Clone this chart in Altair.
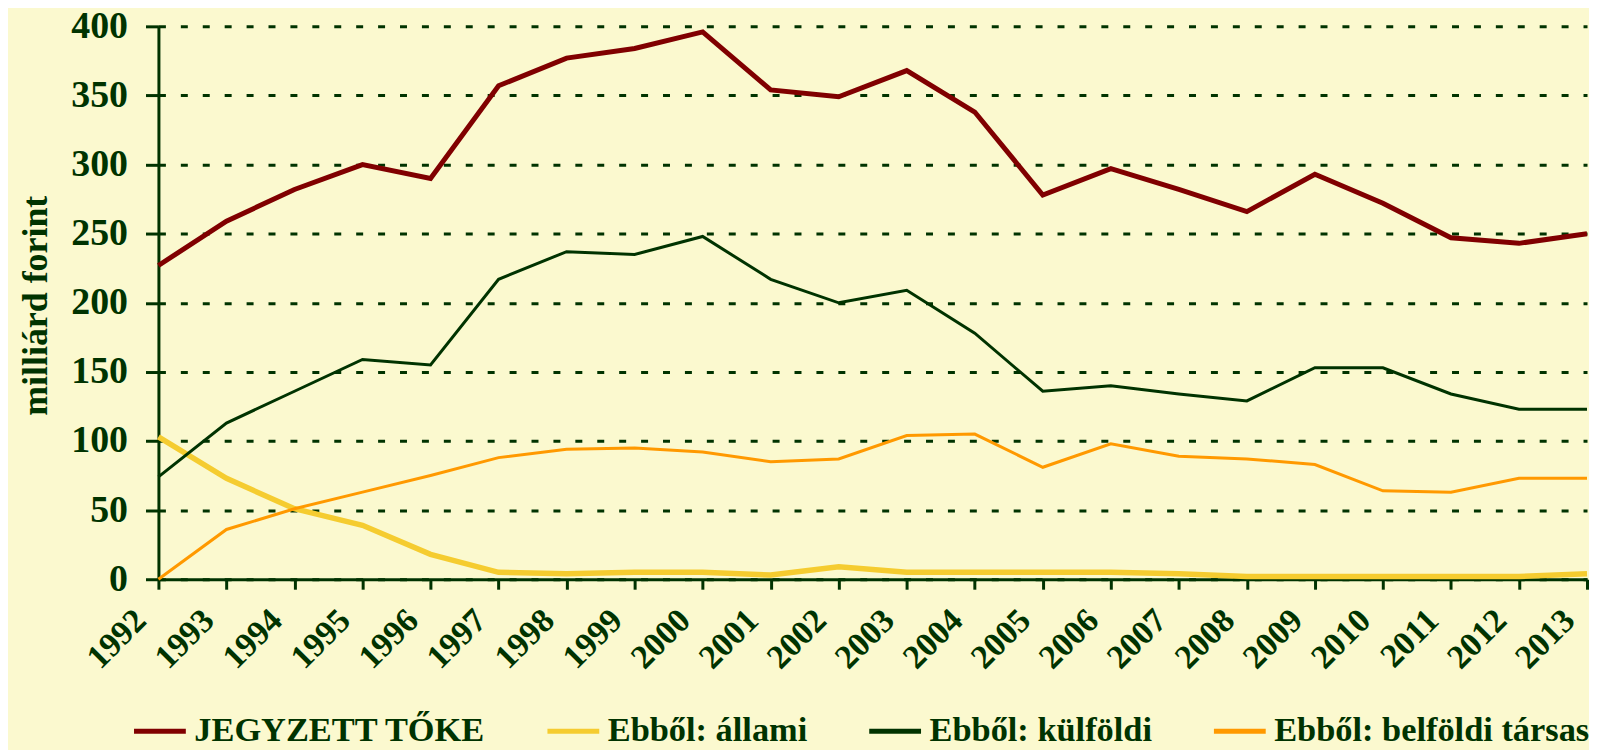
import altair as alt
import pandas as pd

years = list(range(1992, 2014))
series_names = ["JEGYZETT TŐKE", "Ebből: állami", "Ebből: külföldi", "Ebből: belföldi társas"]

jegyzett = [227, 259, 282, 300, 290, 357, 377, 384, 396, 354, 349, 368, 338, 278, 297, 282, 266, 293, 272, 247, 243, 250]
allami = [103, 73, 51, 39, 18, 5, 4, 5, 5, 3, 9, 5, 5, 5, 5, 4, 2, 2, 2, 2, 2, 4]
kulfoldi = [74, 113, 136, 159, 155, 217, 237, 235, 248, 217, 200, 209, 178, 136, 140, 134, 129, 153, 153, 134, 123, 123]
belfoldi = [0, 36, 51, 63, 75, 88, 94, 95, 92, 85, 87, 104, 105, 81, 98, 89, 87, 83, 64, 63, 73, 73]

colors = ["#800000", "#F5CC30", "#003300", "#FF9900"]
widths = [5, 5.5, 3, 3]

rows = []
for name, vals in zip(series_names, [jegyzett, allami, kulfoldi, belfoldi]):
    for y, v in zip(years, vals):
        rows.append({"year": y, "value": v, "series": name})
df = pd.DataFrame(rows)

GREEN = "#003300"
FONT = "Liberation Serif"

x_enc = alt.X("year:O", scale=alt.Scale(type="point", padding=0),
              axis=alt.Axis(title=None, labelAngle=315, labelAlign="right", labelBaseline="middle",
                            labelFontSize=34, labelFont=FONT, labelFontWeight="bold", labelColor=GREEN,
                            labelPadding=26, labelOffset=-18,
                            tickSize=10, tickWidth=3, tickColor=GREEN,
                            domainColor=GREEN, domainWidth=3, grid=False))
y_enc = alt.Y("value:Q", scale=alt.Scale(domain=[0, 400], nice=False),
              axis=alt.Axis(title="milliárd forint", values=list(range(0, 401, 50)),
                            labelFontSize=38, labelFont=FONT, labelFontWeight="bold", labelColor=GREEN,
                            labelPadding=18, tickSize=13, tickWidth=3, tickColor=GREEN,
                            domainColor=GREEN, domainWidth=3,
                            grid=True, gridColor=GREEN, gridWidth=3, gridDash=[7, 15],
                            titleFont=FONT, titleFontSize=36, titleFontWeight="bold", titleColor=GREEN,
                            titleAngle=270, titleX=-123, titleY=280, titleAlign="center",
                            titleBaseline="middle"))
color_enc = alt.Color("series:N", sort=series_names,
                      scale=alt.Scale(domain=series_names, range=colors), title=None)

layers = []
for name, w in zip(series_names, widths):
    layers.append(
        alt.Chart(df).transform_filter(alt.datum.series == name)
        .mark_line(strokeWidth=w, strokeCap="butt", strokeJoin="miter")
        .encode(x=x_enc, y=y_enc, color=color_enc, order=alt.Order("year:Q"))
    )

chart = alt.layer(*layers).properties(
    width=1434, height=555,
    autosize=alt.AutoSizeParams(type="none"),
    padding={"left": 151, "top": 17, "right": 2, "bottom": 170},
    background="#FBF9CF",
).configure_view(stroke=None).configure_legend(
    orient="none", legendX=-27, legendY=679, direction="horizontal",
    symbolType="stroke", symbolSize=2704, symbolStrokeWidth=5,
    labelFont=FONT, labelFontSize=34.5,
    labelFontWeight="bold", labelColor=GREEN, labelOffset=6, columnPadding=51,
    labelLimit=0, titleLimit=0,
)

chart.save("out.html", embed_options={"renderer": "svg", "actions": False})
